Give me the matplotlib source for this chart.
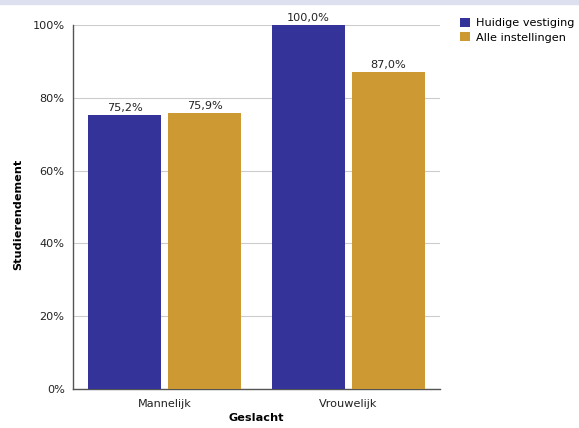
import matplotlib
matplotlib.use("Agg")
import matplotlib.pyplot as plt
import numpy as np

categories = ["Mannelijk", "Vrouwelijk"]
series_names = ["Huidige vestiging", "Alle instellingen"]
huidige = [75.2, 100.0]
alle = [75.9, 87.0]
colors = ["#333399", "#CC9933"]
yticks = [0, 20, 40, 60, 80, 100]

W, H = 579, 428
FS = 8.1
fig = plt.figure(figsize=(W/100, H/100), dpi=100)
ax = fig.add_axes([73/W, 1-389/H, (440-73)/W, (389-25)/H])

x = np.arange(len(categories))
bw = 0.398
off = 0.219
for vals, c, o, name in [(huidige, colors[0], -off, series_names[0]), (alle, colors[1], off, series_names[1])]:
    bars = ax.bar(x + o, vals, bw, color=c, label=name, zorder=3)
    for b, v in zip(bars, vals):
        ax.text(b.get_x() + b.get_width()/2, v + 0.6, f"{v:.1f}%".replace(".", ","),
                ha="center", va="bottom", fontsize=FS, color="#222222", zorder=4)

ax.set_xlim(-0.5, 1.5)
ax.set_ylim(0, 100)
ax.set_yticks(yticks)
ax.set_yticklabels([f"{t}%" for t in yticks], fontsize=FS)
ax.set_xticks(x)
ax.set_xticklabels(categories, fontsize=FS)
ax.tick_params(axis="both", length=0, pad=6, colors="#222222")
ax.tick_params(axis="x", pad=7)
ax.grid(axis="y", color="#cccccc", linewidth=0.8, zorder=0)
for s in ["top", "right"]:
    ax.spines[s].set_visible(False)
for s in ["left", "bottom"]:
    ax.spines[s].set_color("#555555")
    ax.spines[s].set_linewidth(1.0)
ax.set_ylabel("Studierendement", fontsize=FS, fontweight="bold")
ax.set_xlabel("Geslacht", fontsize=FS, fontweight="bold")
ax.yaxis.set_label_coords(23/W, 0.5, transform=fig.transFigure)
ax.xaxis.set_label_coords(256/W, 1-413/H, transform=fig.transFigure)

ax.legend(loc="upper left", bbox_to_anchor=(460/W, 1-18/H), bbox_transform=fig.transFigure,
          frameon=False, fontsize=FS, handlelength=0.85, handleheight=0.85, handletextpad=0.55,
          labelspacing=0.35, borderaxespad=0, borderpad=0)

fig.patches.append(plt.Rectangle((0, 1-4/H), 1, 4/H, transform=fig.transFigure,
                                 color="#dde0ef", zorder=0))
fig.savefig("out.png", dpi=100)
